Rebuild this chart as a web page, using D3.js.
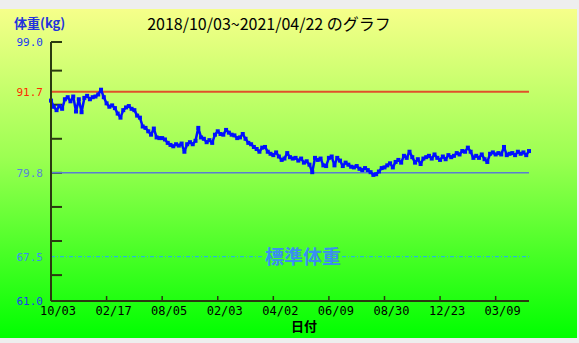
<!DOCTYPE html>
<html>
<head>
<meta charset="utf-8">
<script src="https://cdn.jsdelivr.net/npm/d3@7"></script>
<style>
  html, body { margin: 0; padding: 0; background: #eeeeee; }
  svg { display: block; }
</style>
</head>
<body>
<div class="chart"></div>
<script>
// chart size, margin, etc.
var svgWidth = 579;
var svgHeight = 343;

var margin = { top: 42, right: 50, bottom: 42, left: 51 };
var width = 529 - margin.left;
var height = 301 - margin.top;

// weight readings, one per measurement (kg)
var weights = [
  90.4, 89.5, 89.0, 89.6, 89.2, 90.6, 90.9, 90.3, 91.0, 88.8,
  90.6, 88.7, 90.8, 91.1, 90.6, 90.9, 91.0, 91.3, 92.0, 90.9,
  90.0, 89.5, 89.7, 89.3, 88.5, 87.9, 89.0, 89.4, 89.6, 89.2,
  89.0, 88.2, 87.9, 86.6, 86.4, 85.9, 85.4, 86.3, 85.0, 84.9,
  84.9, 84.7, 84.2, 83.9, 83.7, 84.0, 83.8, 84.1, 82.9, 84.0,
  84.3, 84.0, 84.5, 86.4, 85.0, 84.8, 84.3, 84.6, 84.2, 85.4,
  85.9, 85.5, 85.4, 86.1, 85.7, 85.4, 85.3, 84.9, 85.0, 85.5,
  84.8, 84.2, 84.0, 83.6, 83.3, 82.9, 83.5, 83.6, 82.9, 82.6,
  82.4, 82.8, 82.2, 81.7, 81.9, 82.7, 82.1, 81.9, 82.0, 81.6,
  81.9, 81.3, 81.5, 81.0, 79.9, 82.0, 81.7, 81.9, 80.9, 80.8,
  82.0, 82.2, 80.9, 82.0, 81.6, 80.8, 81.3, 81.0, 80.7, 80.6,
  80.8, 80.4, 80.2, 80.5, 80.2, 79.9, 79.5, 79.6, 80.0, 80.5,
  80.6, 80.9, 81.2, 80.6, 81.4, 81.7, 81.3, 82.3, 82.0, 82.9,
  82.1, 81.3, 81.8, 81.1, 81.9, 82.1, 82.3, 81.9, 82.5, 82.0,
  81.7, 82.2, 81.8, 82.4, 82.1, 82.3, 82.7, 82.5, 83.0, 82.9,
  83.5, 82.9, 82.0, 82.3, 82.0, 82.5, 81.8, 81.4, 82.6, 82.8,
  82.5, 82.7, 82.5, 83.6, 82.4, 82.6, 82.7, 82.4, 82.9, 82.6,
  82.8, 82.4, 83.0
];

// x tick labels (every 20 measurements)
var tickStep = 20;
var tickLabels = ["10/03", "02/17", "08/05", "02/03", "04/02", "06/09", "08/30", "12/23", "03/09"];

// y axis range and reference lines
var yDomain = [61.0, 99.0];
var targetWeight = 79.8;
var tickSpacing = 5;
var refLines = [
  { value: 91.7, color: "#e0502a", labelColor: "#ff2a00", width: 2, dash: null },
  { value: 79.8, color: "#5a7fd0", labelColor: "#5a86d8", width: 1.5, dash: null },
  { value: 67.5, color: "#22a8ff", labelColor: "#3a8ef0", width: 1, dash: "4,2,1,2" }
];
var titleText = "2018/10/03~2021/04/22 のグラフ";
var stdLabel = "標準体重";

var svg = d3.select(".chart")
  .append("svg")
  .attr("width", svgWidth)
  .attr("height", svgHeight);

// background gradient
var defs = svg.append("defs");
var grad = defs.append("linearGradient")
  .attr("id", "bg")
  .attr("x1", 0).attr("y1", 0).attr("x2", 0).attr("y2", 1);
grad.append("stop").attr("offset", "0%").attr("stop-color", "#f6ff8a");
grad.append("stop").attr("offset", "45%").attr("stop-color", "#9cff52");
grad.append("stop").attr("offset", "100%").attr("stop-color", "#00ff00");

svg.append("rect")
  .attr("x", 0).attr("y", 9)
  .attr("width", 577).attr("height", 329)
  .attr("fill", "url(#bg)");

var chartGroup = svg.append("g")
  .attr("transform", `translate(${margin.left}, ${margin.top})`);

// scales
var xScale = d3.scaleLinear()
  .domain([0, weights.length - 1])
  .range([0, width]);

var yScale = d3.scaleLinear()
  .domain(yDomain)
  .range([height, 0]);

// y ticks: every 5 kg from the target, plus the ends
var yTicks = [];
for (var v = targetWeight; v < yDomain[1]; v += tickSpacing) yTicks.push(v);
for (var v = targetWeight - tickSpacing; v > yDomain[0]; v -= tickSpacing) yTicks.push(v);
yTicks.push(yDomain[1]);

chartGroup.append("g")
  .selectAll("line")
  .data(yTicks)
  .enter()
  .append("line")
  .attr("x1", 0).attr("x2", 11)
  .attr("y1", d => yScale(d)).attr("y2", d => yScale(d))
  .attr("stroke", "#2a3a10")
  .attr("stroke-width", 2);

// reference lines
refLines.forEach(function(r) {
  var y = yScale(r.value);
  if (r.dash) {
    // the label sits over the middle of this line
    var t = chartGroup.append("text")
      .attr("x", 252)
      .attr("y", y + 7)
      .attr("text-anchor", "middle")
      .attr("font-family", "'Noto Sans CJK JP', sans-serif")
      .attr("font-weight", "bold")
      .attr("font-size", 19)
      .attr("fill", "#3a8ef0")
      .text(stdLabel);
    var bb = t.node().getBBox();
    [[0, bb.x - 1], [bb.x + bb.width + 1, width]].forEach(function(seg) {
      chartGroup.append("line")
        .attr("x1", seg[0]).attr("x2", seg[1])
        .attr("y1", y).attr("y2", y)
        .attr("stroke", r.color)
        .attr("stroke-width", r.width)
        .attr("stroke-dasharray", r.dash);
    });
  } else {
    chartGroup.append("line")
      .attr("x1", 0).attr("x2", width)
      .attr("y1", y).attr("y2", y)
      .attr("stroke", r.color)
      .attr("stroke-width", r.width);
  }
});

// y value labels
var yLabels = [
  { value: yDomain[1], color: "#1a3cf0" },
  { value: yDomain[0], color: "#1a3cf0" }
].concat(refLines.map(r => ({ value: r.value, color: r.labelColor })));

svg.append("g")
  .selectAll("text")
  .data(yLabels)
  .enter()
  .append("text")
  .attr("x", 43)
  .attr("y", d => margin.top + yScale(d.value) + 4)
  .attr("text-anchor", "end")
  .attr("font-family", "'DejaVu Sans Mono', monospace")
  .attr("font-size", 11)
  .attr("fill", d => d.color)
  .text(d => d.value.toFixed(1));

// weight line and markers
var line = d3.line()
  .x((d, i) => xScale(i))
  .y(d => yScale(d));

chartGroup.append("path")
  .datum(weights)
  .attr("d", line)
  .attr("fill", "none")
  .attr("stroke", "#0010ff")
  .attr("stroke-width", 2.5)
  .attr("stroke-linejoin", "round");

chartGroup.append("g")
  .selectAll("rect")
  .data(weights)
  .enter()
  .append("rect")
  .attr("x", (d, i) => xScale(i) - 2)
  .attr("y", d => yScale(d) - 2)
  .attr("width", 4)
  .attr("height", 4)
  .attr("fill", "#0010ff");

// axes lines
chartGroup.append("line")
  .attr("x1", 0).attr("x2", 0)
  .attr("y1", 0).attr("y2", height)
  .attr("stroke", "#2a3a10").attr("stroke-width", 2);
chartGroup.append("line")
  .attr("x1", 0).attr("x2", width)
  .attr("y1", height).attr("y2", height)
  .attr("stroke", "#2a3a10").attr("stroke-width", 2);

// x ticks and labels
var xTicks = tickLabels.map((lab, k) => ({ i: k * tickStep, label: lab }));

chartGroup.append("g")
  .selectAll("line")
  .data(xTicks)
  .enter()
  .append("line")
  .attr("x1", d => xScale(d.i)).attr("x2", d => xScale(d.i))
  .attr("y1", height).attr("y2", height - 5)
  .attr("stroke", "#2a3a10")
  .attr("stroke-width", 1.5);

chartGroup.append("g")
  .selectAll("text")
  .data(xTicks)
  .enter()
  .append("text")
  .attr("x", d => xScale(d.i) + 7)
  .attr("y", height + 14)
  .attr("text-anchor", "middle")
  .attr("font-family", "'DejaVu Sans Mono', monospace")
  .attr("font-size", 12)
  .attr("fill", "#000")
  .text(d => d.label);

// axis titles
svg.append("text")
  .attr("x", 304)
  .attr("y", 331)
  .attr("text-anchor", "middle")
  .attr("font-family", "'Noto Sans CJK JP', sans-serif")
  .attr("font-weight", "bold")
  .attr("font-size", 13)
  .attr("fill", "#000")
  .text("日付");

svg.append("text")
  .attr("x", 14)
  .attr("y", 28)
  .attr("font-family", "'Noto Sans CJK JP', sans-serif")
  .attr("font-weight", "bold")
  .attr("font-size", 13)
  .attr("fill", "#2233dd")
  .text("体重(kg)");

// chart title
svg.append("text")
  .attr("x", 269)
  .attr("y", 30)
  .attr("text-anchor", "middle")
  .attr("font-family", "'Noto Sans CJK JP', sans-serif")
  .attr("font-size", 16)
  .attr("fill", "#000")
  .text(titleText);
</script>
</body>
</html>
